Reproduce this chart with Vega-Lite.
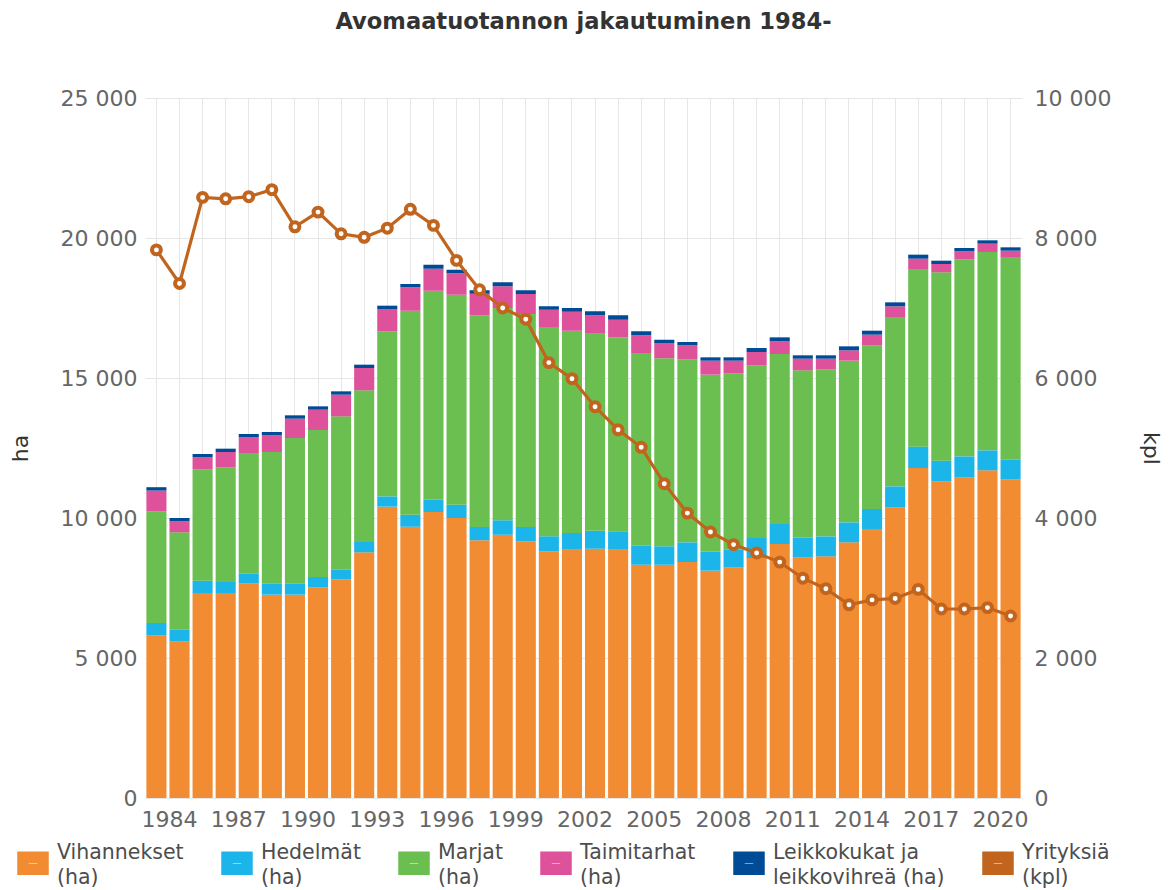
{
  "$schema": "https://vega.github.io/schema/vega-lite/v6.json",
  "width": 877,
  "height": 700,
  "autosize": {"type": "none"},
  "padding": {"left": 145, "top": 98, "right": 148, "bottom": 92},
  "background": "white",
  "title": {"text": "Avomaatuotannon jakautuminen 1984-", "fontSize": 22.6, "fontWeight": "bold", "font": "DejaVu Sans", "color": "#333333", "anchor": "middle", "offset": 53, "frame": "group"},
  "config": {"view": {"stroke": null}, "font": "DejaVu Sans", "style": {"guide-label": {"lineHeight": 25}}},
  "data": {"values": [
    {"vuosi": 1984, "Vihannekset": 5810, "Hedelmät": 440, "Marjat": 3990, "Taimitarhat": 740, "Leikkokukat": 120, "yritykset": 7830},
    {"vuosi": 1985, "Vihannekset": 5595, "Hedelmät": 417, "Marjat": 3476, "Taimitarhat": 393, "Leikkokukat": 119, "yritykset": 7350},
    {"vuosi": 1986, "Vihannekset": 7321, "Hedelmät": 441, "Marjat": 3964, "Taimitarhat": 441, "Leikkokukat": 119, "yritykset": 8580},
    {"vuosi": 1987, "Vihannekset": 7321, "Hedelmät": 393, "Marjat": 4096, "Taimitarhat": 547, "Leikkokukat": 119, "yritykset": 8560},
    {"vuosi": 1988, "Vihannekset": 7667, "Hedelmät": 345, "Marjat": 4309, "Taimitarhat": 560, "Leikkokukat": 119, "yritykset": 8590},
    {"vuosi": 1989, "Vihannekset": 7262, "Hedelmät": 393, "Marjat": 4702, "Taimitarhat": 595, "Leikkokukat": 119, "yritykset": 8690},
    {"vuosi": 1990, "Vihannekset": 7262, "Hedelmät": 393, "Marjat": 5202, "Taimitarhat": 691, "Leikkokukat": 119, "yritykset": 8160},
    {"vuosi": 1991, "Vihannekset": 7524, "Hedelmät": 369, "Marjat": 5250, "Taimitarhat": 726, "Leikkokukat": 119, "yritykset": 8370},
    {"vuosi": 1992, "Vihannekset": 7798, "Hedelmät": 357, "Marjat": 5476, "Taimitarhat": 774, "Leikkokukat": 119, "yritykset": 8060},
    {"vuosi": 1993, "Vihannekset": 8774, "Hedelmät": 369, "Marjat": 5417, "Taimitarhat": 797, "Leikkokukat": 119, "yritykset": 8010},
    {"vuosi": 1994, "Vihannekset": 10405, "Hedelmät": 369, "Marjat": 5881, "Taimitarhat": 809, "Leikkokukat": 119, "yritykset": 8140},
    {"vuosi": 1995, "Vihannekset": 9690, "Hedelmät": 429, "Marjat": 7286, "Taimitarhat": 833, "Leikkokukat": 119, "yritykset": 8410},
    {"vuosi": 1996, "Vihannekset": 10214, "Hedelmät": 441, "Marjat": 7464, "Taimitarhat": 786, "Leikkokukat": 143, "yritykset": 8180},
    {"vuosi": 1997, "Vihannekset": 10000, "Hedelmät": 476, "Marjat": 7500, "Taimitarhat": 762, "Leikkokukat": 131, "yritykset": 7680},
    {"vuosi": 1998, "Vihannekset": 9202, "Hedelmät": 477, "Marjat": 7559, "Taimitarhat": 774, "Leikkokukat": 119, "yritykset": 7260},
    {"vuosi": 1999, "Vihannekset": 9405, "Hedelmät": 512, "Marjat": 7583, "Taimitarhat": 774, "Leikkokukat": 143, "yritykset": 7000},
    {"vuosi": 2000, "Vihannekset": 9167, "Hedelmät": 512, "Marjat": 7607, "Taimitarhat": 714, "Leikkokukat": 131, "yritykset": 6840},
    {"vuosi": 2001, "Vihannekset": 8810, "Hedelmät": 535, "Marjat": 7476, "Taimitarhat": 619, "Leikkokukat": 120, "yritykset": 6220},
    {"vuosi": 2002, "Vihannekset": 8869, "Hedelmät": 595, "Marjat": 7226, "Taimitarhat": 679, "Leikkokukat": 131, "yritykset": 5990},
    {"vuosi": 2003, "Vihannekset": 8905, "Hedelmät": 643, "Marjat": 7035, "Taimitarhat": 655, "Leikkokukat": 143, "yritykset": 5590},
    {"vuosi": 2004, "Vihannekset": 8869, "Hedelmät": 655, "Marjat": 6928, "Taimitarhat": 631, "Leikkokukat": 155, "yritykset": 5260},
    {"vuosi": 2005, "Vihannekset": 8333, "Hedelmät": 679, "Marjat": 6881, "Taimitarhat": 631, "Leikkokukat": 143, "yritykset": 5010},
    {"vuosi": 2006, "Vihannekset": 8333, "Hedelmät": 655, "Marjat": 6714, "Taimitarhat": 548, "Leikkokukat": 119, "yritykset": 4490},
    {"vuosi": 2007, "Vihannekset": 8429, "Hedelmät": 702, "Marjat": 6524, "Taimitarhat": 512, "Leikkokukat": 119, "yritykset": 4070},
    {"vuosi": 2008, "Vihannekset": 8119, "Hedelmät": 691, "Marjat": 6309, "Taimitarhat": 500, "Leikkokukat": 119, "yritykset": 3800},
    {"vuosi": 2009, "Vihannekset": 8238, "Hedelmät": 631, "Marjat": 6298, "Taimitarhat": 452, "Leikkokukat": 119, "yritykset": 3620},
    {"vuosi": 2010, "Vihannekset": 8571, "Hedelmät": 715, "Marjat": 6154, "Taimitarhat": 489, "Leikkokukat": 142, "yritykset": 3500},
    {"vuosi": 2011, "Vihannekset": 9071, "Hedelmät": 715, "Marjat": 6071, "Taimitarhat": 453, "Leikkokukat": 142, "yritykset": 3370},
    {"vuosi": 2012, "Vihannekset": 8595, "Hedelmät": 715, "Marjat": 5964, "Taimitarhat": 416, "Leikkokukat": 120, "yritykset": 3140},
    {"vuosi": 2013, "Vihannekset": 8631, "Hedelmät": 714, "Marjat": 5953, "Taimitarhat": 392, "Leikkokukat": 120, "yritykset": 2990},
    {"vuosi": 2014, "Vihannekset": 9131, "Hedelmät": 714, "Marjat": 5774, "Taimitarhat": 369, "Leikkokukat": 143, "yritykset": 2760},
    {"vuosi": 2015, "Vihannekset": 9607, "Hedelmät": 714, "Marjat": 5834, "Taimitarhat": 393, "Leikkokukat": 142, "yritykset": 2830},
    {"vuosi": 2016, "Vihannekset": 10381, "Hedelmät": 750, "Marjat": 6048, "Taimitarhat": 381, "Leikkokukat": 142, "yritykset": 2850},
    {"vuosi": 2017, "Vihannekset": 11786, "Hedelmät": 762, "Marjat": 6345, "Taimitarhat": 369, "Leikkokukat": 143, "yritykset": 2980},
    {"vuosi": 2018, "Vihannekset": 11310, "Hedelmät": 738, "Marjat": 6726, "Taimitarhat": 297, "Leikkokukat": 119, "yritykset": 2700},
    {"vuosi": 2019, "Vihannekset": 11452, "Hedelmät": 750, "Marjat": 7024, "Taimitarhat": 298, "Leikkokukat": 119, "yritykset": 2700},
    {"vuosi": 2020, "Vihannekset": 11702, "Hedelmät": 715, "Marjat": 7083, "Taimitarhat": 298, "Leikkokukat": 119, "yritykset": 2720},
    {"vuosi": 2021, "Vihannekset": 11369, "Hedelmät": 714, "Marjat": 7238, "Taimitarhat": 227, "Leikkokukat": 119, "yritykset": 2600}
  ]},
  "layer": [
    {
      "transform": [
        {"fold": ["Vihannekset", "Hedelmät", "Marjat", "Taimitarhat", "Leikkokukat"], "as": ["sarja", "ha"]},
        {"calculate": "indexof(['Vihannekset', 'Hedelmät', 'Marjat', 'Taimitarhat', 'Leikkokukat'], datum.sarja)", "as": "jarj"}
      ],
      "mark": {"type": "bar"},
      "encoding": {
        "x": {"field": "vuosi", "type": "ordinal", "scale": {"paddingInner": 0.13, "paddingOuter": 0.06},
          "axis": {"title": null, "labelExpr": "(datum.value - 1984) % 3 == 0 ? datum.label : ''", "labelAngle": 0, "labelFontSize": 22, "labelColor": "#666666", "labelOffset": 13, "labelPadding": 11, "ticks": false, "domain": false, "grid": true, "gridColor": "#e6e6e6", "gridWidth": 1, "labelOverlap": false, "labelFont": "DejaVu Sans"}},
        "y": {"field": "ha", "type": "quantitative", "stack": "zero", "scale": {"domain": [0, 25000], "nice": false},
          "axis": {"title": "ha", "values": [0, 5000, 10000, 15000, 20000, 25000], "labelExpr": "replace(format(datum.value, ','), ',', ' ')", "grid": true, "gridColor": "#e6e6e6", "domain": false, "ticks": false, "labelFontSize": 22, "labelColor": "#666666", "labelPadding": 8, "titleFontSize": 22, "titleFontWeight": "normal", "titleColor": "#333333", "titlePadding": 28, "labelFont": "DejaVu Sans", "titleFont": "DejaVu Sans"}},
        "color": {"field": "sarja", "type": "nominal",
          "scale": {"domain": ["Vihannekset", "Hedelmät", "Marjat", "Taimitarhat", "Leikkokukat", "Yrityksiä"], "range": ["#F28C33", "#1BB5EA", "#6BBE50", "#DE519B", "#004B96", "#C1651E"]},
          "legend": {"orient": "none", "legendX": -128, "legendY": 749, "direction": "horizontal", "columns": 6, "columnPadding": 35, "title": null,
            "labelExpr": "datum.label == 'Leikkokukat' ? ['Leikkokukat ja', 'leikkovihreä (ha)'] : datum.label == 'Yrityksiä' ? ['Yrityksiä', '(kpl)'] : [datum.label, '(ha)']",
            "labelFont": "DejaVu Sans", "labelFontSize": 20.5, "labelColor": "#4d4d4d", "labelOffset": 8, "labelLimit": 400, "labelBaseline": "bottom",
            "symbolType": "M-1,-0.733H1V0.733H-1Z M-0.333,-0.067V0.067H0.333V-0.067Z", "symbolSize": 900, "symbolStrokeColor": "#cccccc", "symbolStrokeWidth": 1.5, "symbolOpacity": 1}},
        "order": {"field": "jarj", "type": "quantitative"}
      }
    },
    {
      "encoding": {
        "x": {"field": "vuosi", "type": "ordinal"},
        "y": {"field": "yritykset", "type": "quantitative", "scale": {"domain": [0, 10000], "nice": false},
          "axis": {"title": "kpl", "orient": "right", "values": [0, 2000, 4000, 6000, 8000, 10000], "labelExpr": "replace(format(datum.value, ','), ',', ' ')", "grid": false, "domain": false, "ticks": false, "labelFontSize": 22, "labelColor": "#666666", "labelPadding": 12, "titleFontSize": 22, "titleFontWeight": "normal", "titleColor": "#333333", "titlePadding": 28, "labelFont": "DejaVu Sans", "titleFont": "DejaVu Sans"}}
      },
      "layer": [
        {"mark": {"type": "line", "strokeWidth": 3.2}, "encoding": {"color": {"datum": "Yrityksiä"}}},
        {"mark": {"type": "point", "filled": true, "fill": "white", "stroke": "#C1651E", "strokeWidth": 4, "size": 80, "opacity": 1}}
      ]
    }
  ],
  "resolve": {"scale": {"y": "independent"}}
}
